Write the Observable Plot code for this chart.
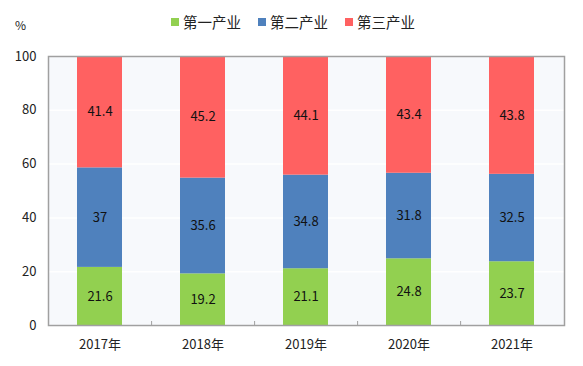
<!DOCTYPE html>
<html>
<head>
<meta charset="utf-8">
<script src="https://cdn.jsdelivr.net/npm/d3@7"></script>
<script src="https://cdn.jsdelivr.net/npm/@observablehq/plot@0.6"></script>
<style>
  body { margin: 0; background: #fff; font-family: "Noto Sans CJK SC", "Noto Sans", sans-serif; }
  #wrap { position: relative; width: 583px; }
  #legend { position: relative; height: 40px; width: 583px; }
  .pct { position: absolute; left: 15px; top: 16px; font-size: 12px; color: #222; }
  .items { position: absolute; left: 171px; top: 12px; display: flex; font-size: 14.5px; color: #222; line-height: 20px; }
  .item { display: flex; align-items: center; margin-right: 17px; }
  .sw { width: 8px; height: 8px; margin-right: 4px; }
</style>
</head>
<body>
<div id="wrap">
  <div id="legend"></div>
  <div id="chart"></div>
</div>
<script>
const years = ["2017年", "2018年", "2019年", "2020年", "2021年"];
const industries = ["第一产业", "第二产业", "第三产业"];
const primary = [21.6, 19.2, 21.1, 24.8, 23.7];
const secondary = [37, 35.6, 34.8, 31.8, 32.5];
const tertiary = [41.4, 45.2, 44.1, 43.4, 43.8];
const colors = ["#92d050", "#4f81bd", "#ff6161"];
const yTicks = [0, 20, 40, 60, 80, 100];

const series = [primary, secondary, tertiary];
const data = [];
industries.forEach((ind, i) => {
  years.forEach((y, j) => data.push({year: y, industry: ind, value: series[i][j]}));
});

// legend
const legend = document.getElementById("legend");
legend.innerHTML = `<div class="pct">%</div><div class="items">` +
  industries.map((d, i) => `<div class="item"><div class="sw" style="background:${colors[i]}"></div>${d}</div>`).join("") +
  `</div>`;

const step = 516 / years.length;
const chart = Plot.plot({
  width: 583,
  height: 326,
  marginLeft: 48,
  marginRight: 19,
  marginTop: 16,
  marginBottom: 41,
  style: {fontFamily: "'Noto Sans CJK SC', sans-serif", fontSize: "12.5px", color: "#222"},
  x: {domain: years, paddingInner: 0.56, paddingOuter: 0.28, label: null},
  y: {domain: [0, 100], ticks: yTicks, label: null},
  color: {domain: industries, range: colors},
  marks: [
    Plot.frame({fill: "#f7f9fc", stroke: "none"}),
    Plot.gridY(yTicks, {stroke: "#ffffff", strokeOpacity: 1, strokeWidth: 1.5}),
    Plot.barY(data, Plot.stackY({x: "year", y: "value", fill: "industry", order: industries})),
    Plot.text(data, Plot.stackY({x: "year", y: "value", z: "industry", order: industries, text: d => String(d.value), fill: "#111", fontSize: 13})),
    Plot.frame({stroke: "#a0a0a0", strokeWidth: 1.5, strokeOpacity: 1}),
    Plot.axisY(yTicks, {tickSize: 0, tickPadding: 12, fontSize: 13}),
    Plot.axisX({tickSize: 0, tickPadding: 14, fontSize: 13}),
    Plot.axisX(years.slice(0, 4), {tickSize: -4, dx: step / 2, tickFormat: () => "", stroke: "#a0a0a0"})
  ]
});
document.getElementById("chart").appendChild(chart);
</script>
</body>
</html>
